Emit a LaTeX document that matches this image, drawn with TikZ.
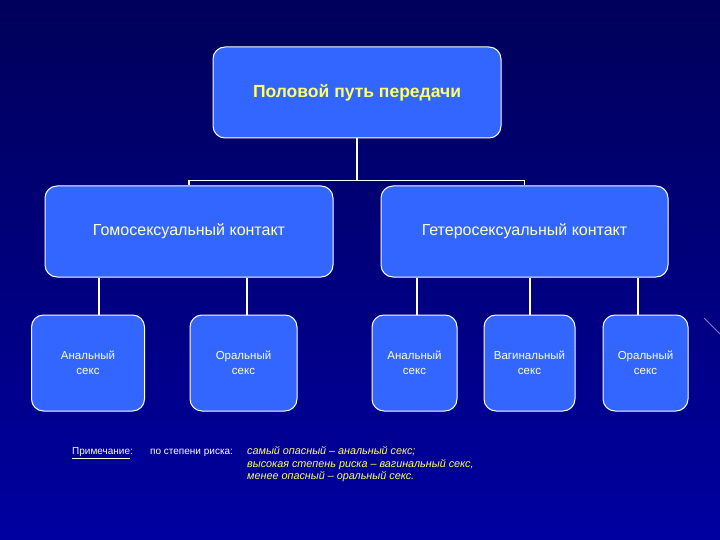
\documentclass[tikz,border=0pt]{standalone}
\usepackage{fontspec}
\setmainfont{Liberation Sans}
\usetikzlibrary{positioning}
\definecolor{slidedark}{HTML}{00005A}
\definecolor{slidedeep}{HTML}{0000A0}
\definecolor{boxblue}{HTML}{3366FF}
\definecolor{paleyellow}{HTML}{FFFFCC}
\definecolor{titleyellow}{HTML}{FFFF66}
\definecolor{streakviolet}{HTML}{9C6BD6}

\begin{document}
\begin{tikzpicture}[
  x=1pt,y=-1pt,
  root/.style={draw=white,fill=boxblue,rounded corners=12pt,line width=1pt,minimum width=288pt,minimum height=91pt,align=center,text=titleyellow,font=\fontsize{17.5}{21}\selectfont\bfseries},
  branch/.style={root,text=paleyellow,font=\fontsize{16}{19}\selectfont},
  leaf/.style={draw=white,fill=boxblue,rounded corners=12pt,line width=1pt,minimum height=96pt,align=center,text=paleyellow,inner sep=2pt,font=\fontsize{11.5}{15}\selectfont},
  link/.style={draw=white,line width=1.6pt},
  note/.style={inner sep=0pt,font=\fontsize{10}{12.5}\selectfont},
  streak/.style={draw=streakviolet,line width=.8pt}
]
  \useasboundingbox (0,0) rectangle (720,540);
  \shade[top color=slidedark,bottom color=slidedeep] (0,0) rectangle (720,540);
  \draw[streak] (704,318) -- (720,334);

  \node[root] (route) at (357,92.5) {Половой путь передачи};

  \node[branch] (homo) at (189,231.5) {Гомосексуальный контакт};
  \node[branch,minimum width=287pt] (hetero) at (524.5,231.5) {Гетеросексуальный контакт};

  \node[leaf,minimum width=113pt] (homoanal) at (88,363) {Анальный\\секс};
  \node[leaf,minimum width=107pt] (homooral) at (243.5,363) {Оральный\\секс};
  \node[leaf,minimum width=85pt] (heteroanal) at (414.5,363) {Анальный\\секс};
  \node[leaf,minimum width=91pt] (vaginal) at (529.5,363) {Вагинальный\\секс};
  \node[leaf,minimum width=85pt] (heterooral) at (645.5,363) {Оральный\\секс};

  \draw[link] (route.south) -- ++(0,42) -| (homo.north);
  \draw[link] (route.south) -- ++(0,42) -| (hetero.north);
  \draw[link] ([xshift=11pt]homoanal.north) -- ([xshift=11pt]homoanal.north |- homo.south);
  \draw[link] ([xshift=3.5pt]homooral.north) -- ([xshift=3.5pt]homooral.north |- homo.south);
  \draw[link] ([xshift=2.5pt]heteroanal.north) -- ([xshift=2.5pt]heteroanal.north |- hetero.south);
  \draw[link] ([xshift=.5pt]vaginal.north) -- ([xshift=.5pt]vaginal.north |- hetero.south);
  \draw[link] ([xshift=-7.5pt]heterooral.north) -- ([xshift=-7.5pt]heterooral.north |- hetero.south);

  % note under the leaves
  \node[note,anchor=west,text=paleyellow] (remark) at (72,453) {\underline{Примечание}:};
  \node[note,anchor=west,text=white] (risk) at (150,453) {по степени риска:};
  \node[note,anchor=north west,align=left,text=titleyellow,font=\fontsize{10.8}{12.5}\selectfont\itshape] (ranking) at (247,446.5) {самый опасный – анальный секс;\\высокая степень риска – вагинальный секс,\\менее опасный – оральный секс.};
\end{tikzpicture}
\end{document}
